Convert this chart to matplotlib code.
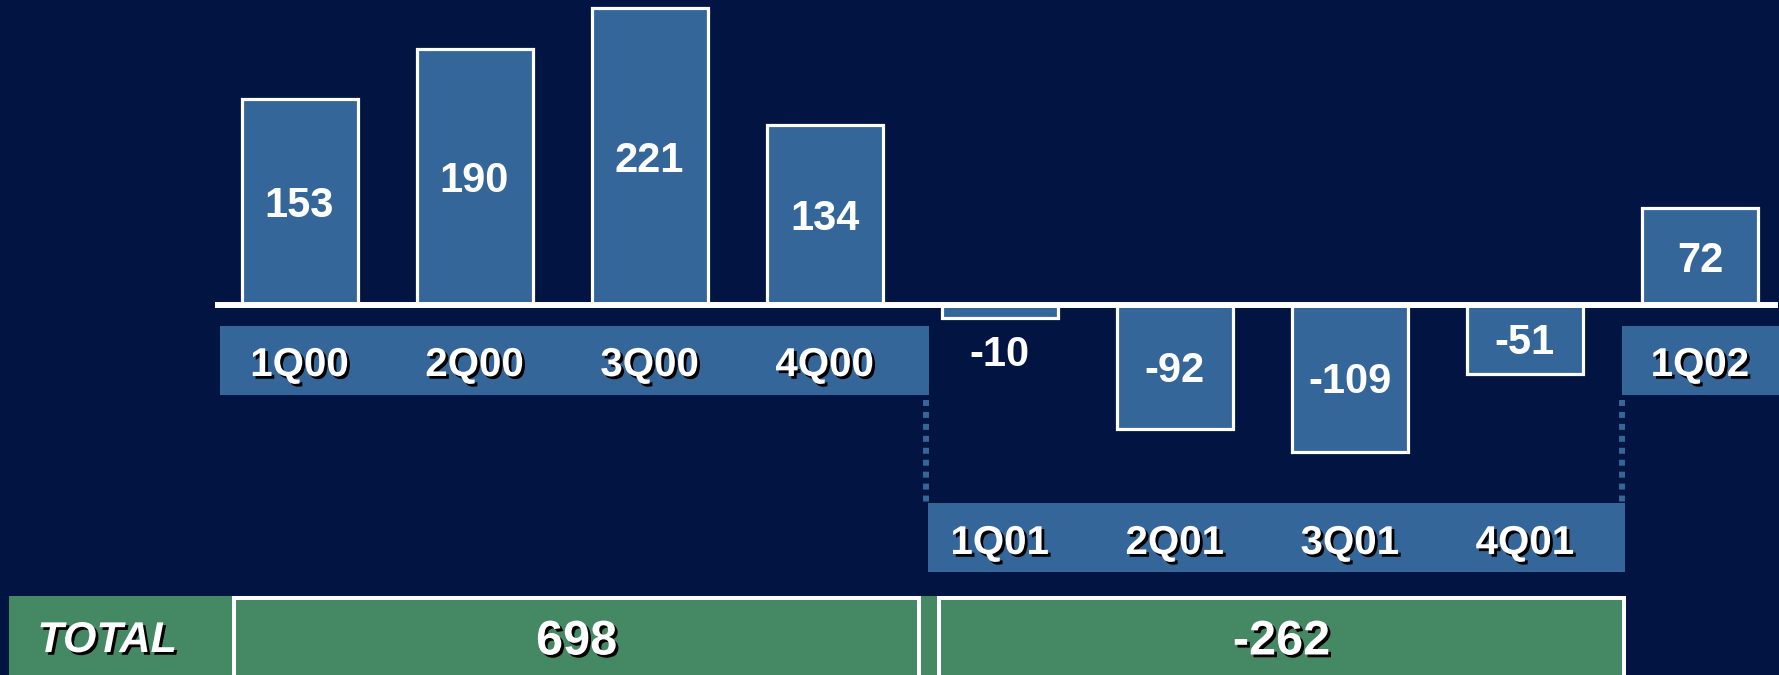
import matplotlib
matplotlib.use('Agg')
import matplotlib.pyplot as plt
import matplotlib.patheffects as pe
from matplotlib.patches import Rectangle
from matplotlib.transforms import blended_transform_factory

# ---- data ----
quarters = ['1Q00', '2Q00', '3Q00', '4Q00', '1Q01', '2Q01', '3Q01', '4Q01', '1Q02']
values = [153, 190, 221, 134, -10, -92, -109, -51, 72]
group_2000 = ['1Q00', '2Q00', '3Q00', '4Q00']
group_2001 = ['1Q01', '2Q01', '3Q01', '4Q01']
group_2002 = ['1Q02']
total_label = 'TOTAL'
totals = [698, -262]

# ---- style ----
BG = '#021542'
BAR = '#356699'
GREEN = '#458864'
FONT = 'Liberation Sans'
plt.rcParams['font.family'] = [FONT, 'DejaVu Sans']

W, H = 1779, 675
fig = plt.figure(figsize=(W / 100, H / 100), dpi=100)
fig.patch.set_facecolor(BG)

# pixel overlay for decorations (drawn underneath)
axp = fig.add_axes([0, 0, 1, 1])
axp.set_xlim(0, W)
axp.set_ylim(H, 0)
axp.set_facecolor(BG)
axp.axis('off')

# data axes for bars
ax = fig.add_axes([0, 0, 1, 1])
ax.patch.set_alpha(0)
ax.axis('off')
x0, dx = 299.5, 175.05
ax.set_xlim(-x0 / dx, (W - x0) / dx)
base, k = 305, 1.345
ax.set_ylim(-(H - base) / k, base / k)

xs = list(range(len(quarters)))
ax.bar(xs, values, width=116 / dx, color=BAR, edgecolor='white',
       linewidth=2.3, zorder=2)
ax.axhline(0, xmin=215 / W, xmax=1778 / W, color='white', lw=4.3, zorder=3,
           solid_capstyle='butt')

for i, v in zip(xs, values):
    if abs(v) * k < 40:
        ax.annotate(str(v), (i, v), xytext=(0, -26), textcoords='offset points',
                    ha='center', va='center', color='white', fontsize=30,
                    fontweight='bold', zorder=4)
    else:
        ax.annotate(str(v), (i, v / 2), xytext=(0, -3), textcoords='offset points',
                    ha='center', va='center', color='white', fontsize=30,
                    fontweight='bold', zorder=4)

shadow = [pe.withSimplePatchShadow(offset=(2, -2), shadow_rgbFace='black', alpha=1)]

# category bands
bands = [(220, 326, 929, 395), (928, 503, 1625, 572), (1622, 326, 1779, 395)]
for (l, t, r, b) in bands:
    axp.add_patch(Rectangle((l, t), r - l, b - t, facecolor=BAR, edgecolor='none'))

trans = blended_transform_factory(ax.transData, axp.transData)
for grp, yc in [(group_2000, 365), (group_2001, 543), (group_2002, 365)]:
    for q in grp:
        ax.text(quarters.index(q), yc, q, transform=trans, ha='center', va='center',
                color='white', fontsize=29, fontweight='bold', path_effects=shadow,
                zorder=4)

# dotted connectors
for xd in (925.5, 1622):
    axp.plot([xd, xd], [400, 502], color=BAR, lw=4.3, linestyle=(0, (1, 1)),
             dash_capstyle='butt')

# totals row
axp.add_patch(Rectangle((9, 596), 1626 - 9, 120, facecolor=GREEN, edgecolor='none'))
boxes = [(232, 921), (937, 1626)]
for (l, r), tv in zip(boxes, totals):
    axp.add_patch(Rectangle((l + 2, 598), r - l - 4, 120, facecolor=GREEN,
                            edgecolor='white', linewidth=2.9))
    axp.text((l + r) / 2, 642, str(tv), ha='center', va='center', color='white',
             fontsize=35, fontweight='bold', path_effects=shadow)
axp.text(107, 641, total_label, ha='center', va='center', color='white',
         fontsize=31, fontweight='bold', style='italic', path_effects=shadow)

fig.savefig('out.png', dpi=100, facecolor=BG)
